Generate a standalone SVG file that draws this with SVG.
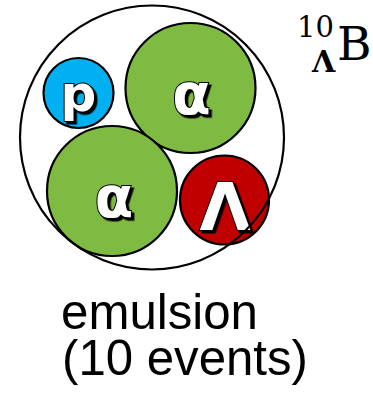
<svg xmlns="http://www.w3.org/2000/svg" width="373" height="395" viewBox="0 0 373 395">
<style>
.ball{stroke:#000;stroke-width:2.2}
.lbl{font-family:"DejaVu Sans",sans-serif;font-weight:bold;text-anchor:middle;fill:#fff;stroke:#000;stroke-width:2;paint-order:stroke;filter:url(#shadow)}
.cap{font-family:"Liberation Sans","DejaVu Sans",sans-serif;font-size:50px;fill:#000}
.ser{font-family:"DejaVu Serif",serif;fill:#000}
</style>
<defs>
<filter id="shadow" x="-20%" y="-20%" width="150%" height="150%">
<feDropShadow dx="2.5" dy="2.5" stdDeviation="0" flood-color="#000" flood-opacity="1"/>
</filter>
</defs>
<rect width="373" height="395" fill="#fff"/>
<g id="nucleus-bg"><circle cx="152" cy="137.5" r="132" fill="#fff"/></g>
<g id="proton">
<circle class="ball" cx="78.5" cy="93" r="35" fill="#00b0f0"/>
<text class="lbl" x="78.5" y="110.5" font-size="50">p</text>
</g>
<g id="alpha1">
<circle class="ball" cx="190.5" cy="88" r="65" fill="#7fba42"/>
<text class="lbl" x="191.5" y="113.5" font-size="56">α</text>
</g>
<g id="alpha2">
<circle class="ball" cx="112" cy="191" r="65" fill="#7fba42"/>
<text class="lbl" x="114" y="217" font-size="56">α</text>
</g>
<g id="lambda">
<circle class="ball" cx="224.5" cy="200" r="44.5" fill="#c00000"/>
<text class="lbl" x="225" y="229.5" font-size="66">Λ</text>
</g>
<g id="nucleus"><circle cx="152" cy="137.5" r="132" fill="none" stroke="#000" stroke-width="2.2"/></g>
<g id="title">
<text class="ser" x="297" y="37" font-size="29">10</text>
<text class="ser" x="312" y="72" font-size="30" font-weight="bold">Λ</text>
<text class="ser" x="337" y="60" font-size="47">B</text>
</g>
<g id="caption">
<text class="cap" x="61" y="329" textLength="197" lengthAdjust="spacingAndGlyphs">emulsion</text>
<text class="cap" x="62" y="375" textLength="246" lengthAdjust="spacingAndGlyphs">(10 events)</text>
</g>
<g id="connectors"></g>
</svg>
